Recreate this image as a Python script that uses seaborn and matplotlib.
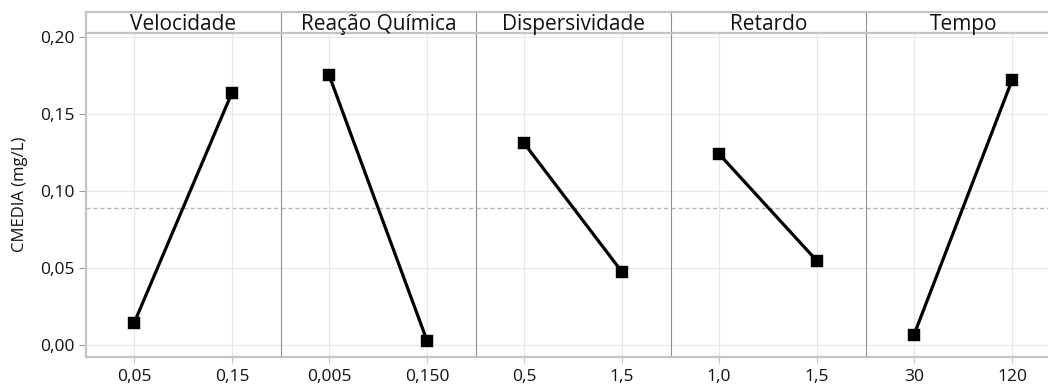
import matplotlib
matplotlib.use("Agg")
import matplotlib.pyplot as plt
import seaborn as sns
import pandas as pd
from matplotlib.ticker import FuncFormatter

# Main effects for CMEDIA (mg/L)
fatores = ["Velocidade", "Reação Química", "Dispersividade", "Retardo", "Tempo"]
niveis = [["0,05", "0,15"], ["0,005", "0,150"], ["0,5", "1,5"], ["1,0", "1,5"], ["30", "120"]]
medias = [[0.0141, 0.1638], [0.1753, 0.0028], [0.1310, 0.0474], [0.1240, 0.0545], [0.0066, 0.1718]]
media_geral = 0.0891
y_ticks = [0.00, 0.05, 0.10, 0.15, 0.20]

sns.set_theme(style="white")
plt.rcParams["font.family"] = ["Open Sans", "DejaVu Sans"]

W, H = 1048, 385
fig = plt.figure(figsize=(W / 100, H / 100), dpi=100)

frame_col = "#c4c4c4"
sep_col = "#8f8f8f"
grid_col = "#e8e8e8"
text_col = "#111111"

x0, pw = 86, 195
top_strip, bot_strip, bot_ax = 12, 33, 356.5

for i, (fator, nv, vals) in enumerate(zip(fatores, niveis, medias)):
    left = (x0 + i * pw) / W
    ax = fig.add_axes([left, (H - bot_ax) / H, pw / W, (bot_ax - bot_strip) / H])
    df = pd.DataFrame({"nivel": nv, "cmedia": vals})
    sns.pointplot(data=df, x="nivel", y="cmedia", ax=ax, color="black",
                  marker="s", markersize=6.5, linewidth=2.3, errorbar=None)
    ax.axhline(media_geral, color="#b5b5b5", lw=1.0, ls=(0, (3, 2)), zorder=0)
    ax.set_xlim(-0.49, 1.5)
    ax.set_ylim(-0.0075, 0.2025)
    ax.set_yticks(y_ticks)
    ax.grid(True, color=grid_col, lw=0.9)
    ax.set_axisbelow(True)
    ax.set_xlabel("")
    ax.set_ylabel("")
    ax.tick_params(axis="x", length=4, width=0.8, color=frame_col, pad=5,
                   labelsize=12.5, labelcolor=text_col, bottom=True)
    if i == 0:
        ax.tick_params(axis="y", length=5, width=0.8, color="#9a9a9a", pad=3,
                       labelsize=12.5, labelcolor=text_col, left=True)
        ax.yaxis.set_major_formatter(FuncFormatter(lambda v, p: f"{v:.2f}".replace(".", ",")))
        ax.set_ylabel("CMEDIA (mg/L)", fontsize=12, color=text_col, labelpad=9)
        ax.spines["left"].set_color(frame_col)
        ax.spines["left"].set_linewidth(1.6)
    else:
        ax.tick_params(axis="y", left=False, labelleft=False)
        ax.spines["left"].set_color(sep_col)
        ax.spines["left"].set_linewidth(0.8)
    ax.spines["top"].set_visible(False)
    ax.spines["right"].set_visible(False)
    ax.spines["bottom"].set_color(frame_col)
    ax.spines["bottom"].set_linewidth(1.6)

    # Panel header strip
    sx = fig.add_axes([left, (H - bot_strip) / H, pw / W, (bot_strip - top_strip) / H])
    sx.set_xticks([])
    sx.set_yticks([])
    sx.set_facecolor("white")
    for s in ["top", "bottom"]:
        sx.spines[s].set_color(frame_col)
        sx.spines[s].set_linewidth(1.6)
    sx.spines["right"].set_visible(False)
    if i == 0:
        sx.spines["left"].set_color(frame_col)
        sx.spines["left"].set_linewidth(1.6)
    else:
        sx.spines["left"].set_color(sep_col)
        sx.spines["left"].set_linewidth(0.8)
    sx.text(0.5, 0.40, fator, transform=sx.transAxes, ha="center", va="center",
            fontsize=15, color=text_col)

fig.savefig("out.png", dpi=100)
